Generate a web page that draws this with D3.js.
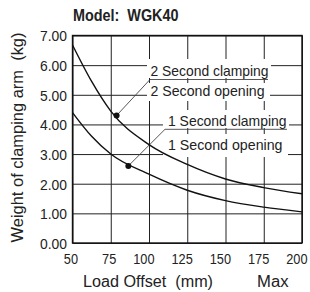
<!DOCTYPE html>
<html><head><meta charset="utf-8">
<script src="https://cdn.jsdelivr.net/npm/d3@7"></script>
<style>
html,body{margin:0;padding:0;background:#fff;}
text{font-family:"Liberation Sans",Arial,sans-serif;fill:#222;white-space:pre;}
</style></head>
<body>
<svg id="c" width="310" height="292"></svg>
<script>
const title = "Model:  WGK40";
const xTitle = "Load Offset  (mm)";
const xExtra = "Max";
const yTitle = "Weight of clamping arm  (kg)";
const xTicks = [50, 75, 100, 125, 150, 175, 200];
const yTicks = [0, 1, 2, 3, 4, 5, 6, 7];
const offsets = [50, 62.5, 75, 100, 125, 150, 175, 200];
const twoSecond = [6.68, 5.45, 4.45, 3.32, 2.65, 2.16, 1.87, 1.66];
const oneSecond = [4.40, 3.60, 3.00, 2.32, 1.78, 1.43, 1.21, 1.05];
const markerOffsets = [78.8, 86.5];
const markerWeights = [4.30, 2.60];
const labelsTwo = ["2 Second clamping", "2 Second opening"];
const labelsOne = ["1 Second clamping", "1 Second opening"];

const svg = d3.select("#c");
const x = d3.scaleLinear().domain([50, 200]).range([72.5, 302]);
const y = d3.scaleLinear().domain([0, 7]).range([243, 35.5]);

function narrow(sel, w) {
  sel.attr("textLength", w).attr("lengthAdjust", "spacingAndGlyphs");
}

// grid
const gx = svg.append("g").attr("transform", `translate(0,${y(0)})`)
  .call(d3.axisBottom(x).tickValues(xTicks).tickSize(-(y(0) - y(7))).tickFormat(d => d));
gx.select(".domain").remove();
gx.selectAll("line").attr("stroke", "#222").attr("stroke-width", 1);
gx.selectAll("text").attr("font-size", 15).attr("dy", 0).attr("y", 20.5).attr("x", 5)
  .attr("text-anchor", "end").attr("fill", "#222")
  .each(function (d) { narrow(d3.select(this), String(d).length * 7.1); });

const gy = svg.append("g").attr("transform", `translate(${x(50)},0)`)
  .call(d3.axisLeft(y).tickValues(yTicks).tickSize(-(x(200) - x(50))).tickFormat(d3.format(".2f")));
gy.select(".domain").remove();
gy.selectAll("line").attr("stroke", "#222").attr("stroke-width", 1);
gy.selectAll("text").attr("font-size", 15).attr("x", -5.5).attr("dy", "0.36em").attr("fill", "#222")
  .call(narrow, 27);

// label boxes and texts
function labelPair(labels, tx, by1, by2, w1, w2, boxes) {
  boxes.forEach(b => svg.append("rect").attr("x", b[0]).attr("y", b[1]).attr("width", b[2]).attr("height", b[3]).attr("fill", "#fff"));
  svg.append("text").attr("x", tx).attr("y", by1).attr("font-size", 15).text(labels[0]).call(narrow, w1);
  svg.append("text").attr("x", tx).attr("y", by2).attr("font-size", 15).text(labels[1]).call(narrow, w2);
}
labelPair(labelsTwo, 150.5, 75.5, 96, 118, 114, [[147, 59, 124, 19], [147, 83, 123, 18]]);
labelPair(labelsOne, 168, 125.7, 150, 118.5, 114.5, [[163, 110, 126, 18], [163, 134, 125, 23]]);

// underline + leader lines
const leaders = [
  {ux1: 150, ux2: 268, uy: 79.5, i: 0},
  {ux1: 165, ux2: 287, uy: 129.3, i: 1}
];
leaders.forEach(l => {
  svg.append("line").attr("x1", l.ux1).attr("x2", l.ux2).attr("y1", l.uy).attr("y2", l.uy)
    .attr("stroke", "#444").attr("stroke-width", 0.9);
  svg.append("line").attr("x1", l.ux1).attr("y1", l.uy)
    .attr("x2", x(markerOffsets[l.i])).attr("y2", y(markerWeights[l.i]))
    .attr("stroke", "#444").attr("stroke-width", 0.9);
});

// curves
const line = d3.line().x((d, i) => x(offsets[i])).y(d => y(d)).curve(d3.curveMonotoneX);
[twoSecond, oneSecond].forEach(s => {
  svg.append("path").attr("d", line(s)).attr("fill", "none").attr("stroke", "#111").attr("stroke-width", 1.4);
});

// markers
svg.selectAll("circle.m").data(markerOffsets).enter().append("circle")
  .attr("cx", d => x(d)).attr("cy", (d, i) => y(markerWeights[i])).attr("r", 3).attr("fill", "#111");

// border
svg.append("rect").attr("x", x(50)).attr("y", y(7)).attr("width", x(200) - x(50)).attr("height", y(0) - y(7))
  .attr("fill", "none").attr("stroke", "#111").attr("stroke-width", 1.4);

// titles
svg.append("text").attr("x", 73).attr("y", 20.5).attr("font-size", 16).attr("font-weight", "bold")
  .attr("fill", "#333").text(title).call(narrow, 105.5);
svg.append("text").attr("x", 83).attr("y", 287).attr("font-size", 16).text(xTitle).call(narrow, 130);
svg.append("text").attr("x", 257).attr("y", 287).attr("font-size", 16).text(xExtra).call(narrow, 31.5);
svg.append("text").attr("transform", `translate(23,${(32 + 243) / 2}) rotate(-90)`)
  .attr("text-anchor", "middle").attr("font-size", 16.5).text(yTitle).call(narrow, 210);
</script>
</body></html>
